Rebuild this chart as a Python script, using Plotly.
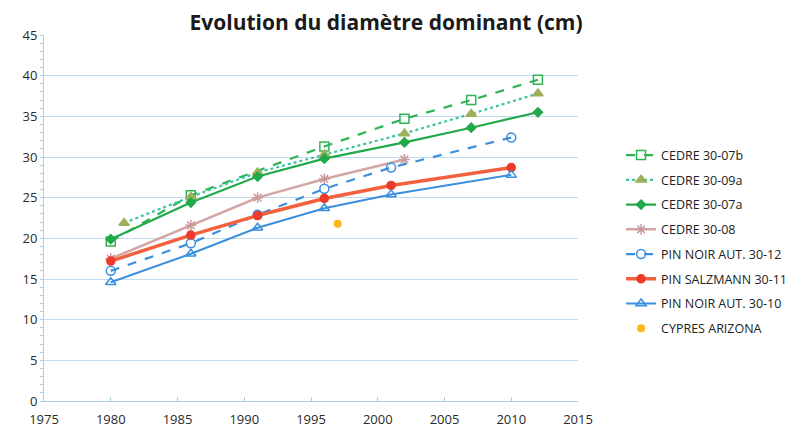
import plotly.graph_objects as go

title = "Evolution du diamètre dominant (cm)"

names = ["CEDRE 30-07b", "CEDRE 30-09a", "CEDRE 30-07a", "CEDRE 30-08",
         "PIN NOIR AUT. 30-12", "PIN SALZMANN 30-11", "PIN NOIR AUT. 30-10",
         "CYPRES ARIZONA"]

x_07b = [1980, 1986, 1996, 2002, 2007, 2012]
y_07b = [19.6, 25.3, 31.3, 34.7, 37.0, 39.5]

x_09a = [1981, 1986, 1991, 1996, 2002, 2007, 2012]
y_09a = [21.9, 25.1, 28.1, 30.3, 32.9, 35.3, 37.8]

x_07a = [1980, 1986, 1991, 1996, 2002, 2007, 2012]
y_07a = [19.9, 24.4, 27.6, 29.8, 31.8, 33.6, 35.5]

x_08 = [1980, 1986, 1991, 1996, 2002]
y_08 = [17.5, 21.6, 25.0, 27.3, 29.7]

x_12 = [1980, 1986, 1991, 1996, 2001, 2010]
y_12 = [16.0, 19.4, 22.9, 26.1, 28.7, 32.4]

x_11 = [1980, 1986, 1991, 1996, 2001, 2010]
y_11 = [17.2, 20.4, 22.8, 24.9, 26.5, 28.7]

x_10 = [1980, 1986, 1991, 1996, 2001, 2010]
y_10 = [14.6, 18.1, 21.3, 23.7, 25.4, 27.8]

x_cyp = [1997]
y_cyp = [21.8]

x_ticks = [1975, 1980, 1985, 1990, 1995, 2000, 2005, 2010, 2015]

fig = go.Figure()

def add(x, y, name, color, width, dash, symbol, msize, mcolor, mline, mode="lines+markers"):
    fig.add_trace(go.Scatter(
        x=x, y=y, name=name, mode=mode, legendgroup=name,
        line=dict(color=color, width=width, dash=dash),
        marker=dict(symbol=symbol, size=msize, color=mcolor,
                    line=dict(color=mline, width=1.5)),
    ))

add(x_07b, y_07b, names[0], "#2fb455", 2.2, "dash", "square-open", 9, "#2fb455", "#2fb455")
add(x_09a, y_09a, names[1], "#3cc3a0", 2.2, "dot", "triangle-up", 9, "#9db05a", "#9db05a")
add(x_07a, y_07a, names[2], "#22a94a", 2.2, "solid", "diamond", 7, "#22a94a", "#22a94a")
add(x_08, y_08, names[3], "#d4a5a5", 2.5, "solid", "asterisk-open", 9, "#c99a9a", "#c99a9a")
add(x_12, y_12, names[4], "#3a8fde", 2.2, "dash", "circle-open", 9, "#3a8fde", "#3a8fde")
add(x_11, y_11, names[5], "#f2603e", 3.5, "solid", "circle", 8, "#ee3a2a", "#ee3a2a")
add(x_10, y_10, names[6], "#3a8fde", 2.0, "solid", "triangle-up-open", 9, "#3a8fde", "#3a8fde")
fig.add_trace(go.Scatter(x=x_cyp, y=y_cyp, name=names[7], mode="markers", legendgroup=names[7],
                         marker=dict(symbol="circle", size=8, color="#ffb61c")))

axis_col = "#a9cfe6"
fig.update_layout(
    width=786, height=419,
    paper_bgcolor="white", plot_bgcolor="white",
    margin=dict(l=36, r=216, t=27, b=26),
    title=dict(text="<b>" + title + "</b>", x=0.481, xanchor="center", y=0.964, yanchor="middle",
               font=dict(family="Open Sans", size=21, color="#1a1a1a")),
    font=dict(family="Open Sans", color="#333333"),
    xaxis=dict(range=[1975, 2015], tickvals=x_ticks, automargin=False,
               showgrid=False, showline=True, linecolor=axis_col, linewidth=1,
               ticks="inside", ticklen=4, tickcolor=axis_col, zeroline=False,
               ticklabelstandoff=6,
               tickfont=dict(size=13, color="#2a2a2a")),
    yaxis=dict(range=[0, 45], dtick=5, showgrid=True, gridcolor="#c0dcee", gridwidth=1.2,
               automargin=False,
               showline=True, linecolor=axis_col, linewidth=1, zeroline=False,
               ticks="outside", ticklen=3, tickcolor=axis_col,
               minor=dict(dtick=1, ticks="outside", ticklen=3, tickcolor=axis_col, showgrid=False),
               tickfont=dict(size=13, color="#2a2a2a")),
    showlegend=True,
    legend=dict(xref="container", yref="container", x=0.780, y=0.684, xanchor="left", yanchor="top",
                font=dict(family="Open Sans", size=12.5, color="#222222"),
                tracegroupgap=5.5, traceorder="grouped", bgcolor="rgba(0,0,0,0)", itemwidth=30),
)

fig.write_html("out.html")
